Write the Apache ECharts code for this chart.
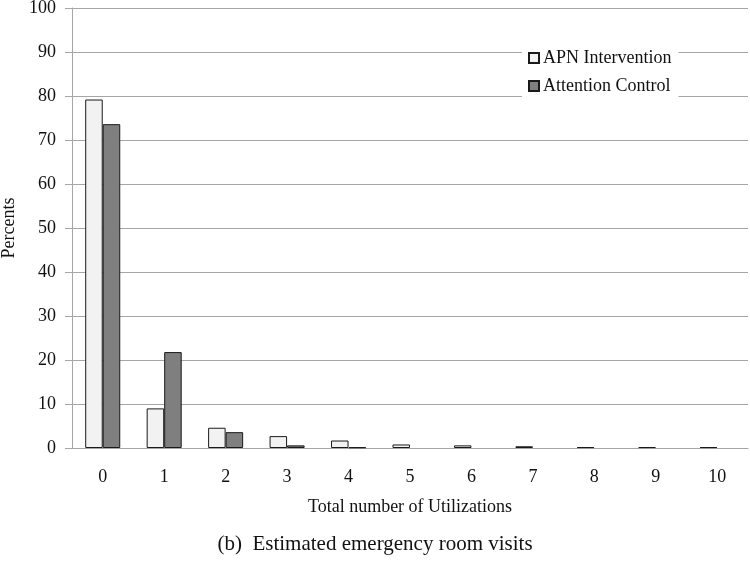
<!DOCTYPE html>
<html>
<head>
<meta charset="utf-8">
<script src="https://cdn.jsdelivr.net/npm/echarts@6/dist/echarts.min.js"></script>
<style>
html,body{margin:0;padding:0;background:#fff;}
#chart{width:750px;height:561px;}
</style>
</head>
<body>
<div id="chart"></div>
<script>
var categories = ['0','1','2','3','4','5','6','7','8','9','10'];
var apnIntervention = [79.2, 9.0, 4.6, 2.7, 1.7, 0.8, 0.6, 0.4, 0.2, 0.2, 0.2];
var attentionControl = [73.6, 21.8, 3.6, 0.6, 0.15, 0, 0, 0, 0, 0, 0];
var seriesNames = ['APN Intervention', 'Attention Control'];
var xAxisTitle = 'Total number of Utilizations';
var yAxisTitle = 'Percents';
var caption = '(b)  Estimated emergency room visits';

var FONT = '"Liberation Serif", "Times New Roman", serif';

function toItems(arr) {
  return arr.map(function (v) {
    return v === 0 ? {value: v, itemStyle: {borderWidth: 0}} : v;
  });
}

var chart = echarts.init(document.getElementById('chart'), null, {renderer: 'canvas'});
chart.setOption({
  animation: false,
  backgroundColor: '#ffffff',
  textStyle: {fontFamily: FONT},
  grid: {left: 72, right: 2, top: 8, bottom: 113, containLabel: false, outerBoundsMode: 'none'},
  legend: {
    data: seriesNames,
    orient: 'vertical',
    left: 522,
    top: 41,
    padding: [8, 7, 8, 6],
    itemGap: 10,
    itemWidth: 10,
    itemHeight: 10,
    backgroundColor: '#ffffff',
    textStyle: {fontFamily: FONT, fontSize: 18, color: '#111', padding: [0, 0, 0, -1]},
    icon: 'rect'
  },
  xAxis: {
    type: 'category',
    data: categories,
    name: xAxisTitle,
    nameLocation: 'middle',
    nameGap: 50,
    nameTextStyle: {fontFamily: FONT, fontSize: 18, color: '#111'},
    axisLine: {lineStyle: {color: '#a6a6a6', width: 1}},
    axisTick: {show: false},
    axisLabel: {fontFamily: FONT, fontSize: 18, color: '#111', margin: 20}
  },
  yAxis: {
    type: 'value',
    min: 0,
    max: 100,
    interval: 10,
    name: yAxisTitle,
    nameLocation: 'middle',
    nameGap: 49,
    nameTextStyle: {fontFamily: FONT, fontSize: 18, color: '#111'},
    axisLine: {show: true, lineStyle: {color: '#a6a6a6', width: 1}},
    axisTick: {show: true, length: 7, lineStyle: {color: '#a6a6a6'}},
    axisLabel: {fontFamily: FONT, fontSize: 18, color: '#111', margin: 16},
    splitLine: {lineStyle: {color: '#a6a6a6', width: 1}}
  },
  series: [
    {
      name: seriesNames[0],
      type: 'bar',
      data: toItems(apnIntervention),
      barGap: '0%',
      barCategoryGap: '43%',
      itemStyle: {color: '#f2f2f2', borderColor: '#1a1a1a', borderWidth: 1}
    },
    {
      name: seriesNames[1],
      type: 'bar',
      data: toItems(attentionControl),
      barGap: '0%',
      barCategoryGap: '43%',
      itemStyle: {color: '#7f7f7f', borderColor: '#1a1a1a', borderWidth: 1}
    }
  ],
  graphic: [{
    type: 'text',
    left: 'center',
    top: 534,
    style: {text: caption, font: '21px ' + FONT, fill: '#111'}
  }]
});
</script>
</body>
</html>
